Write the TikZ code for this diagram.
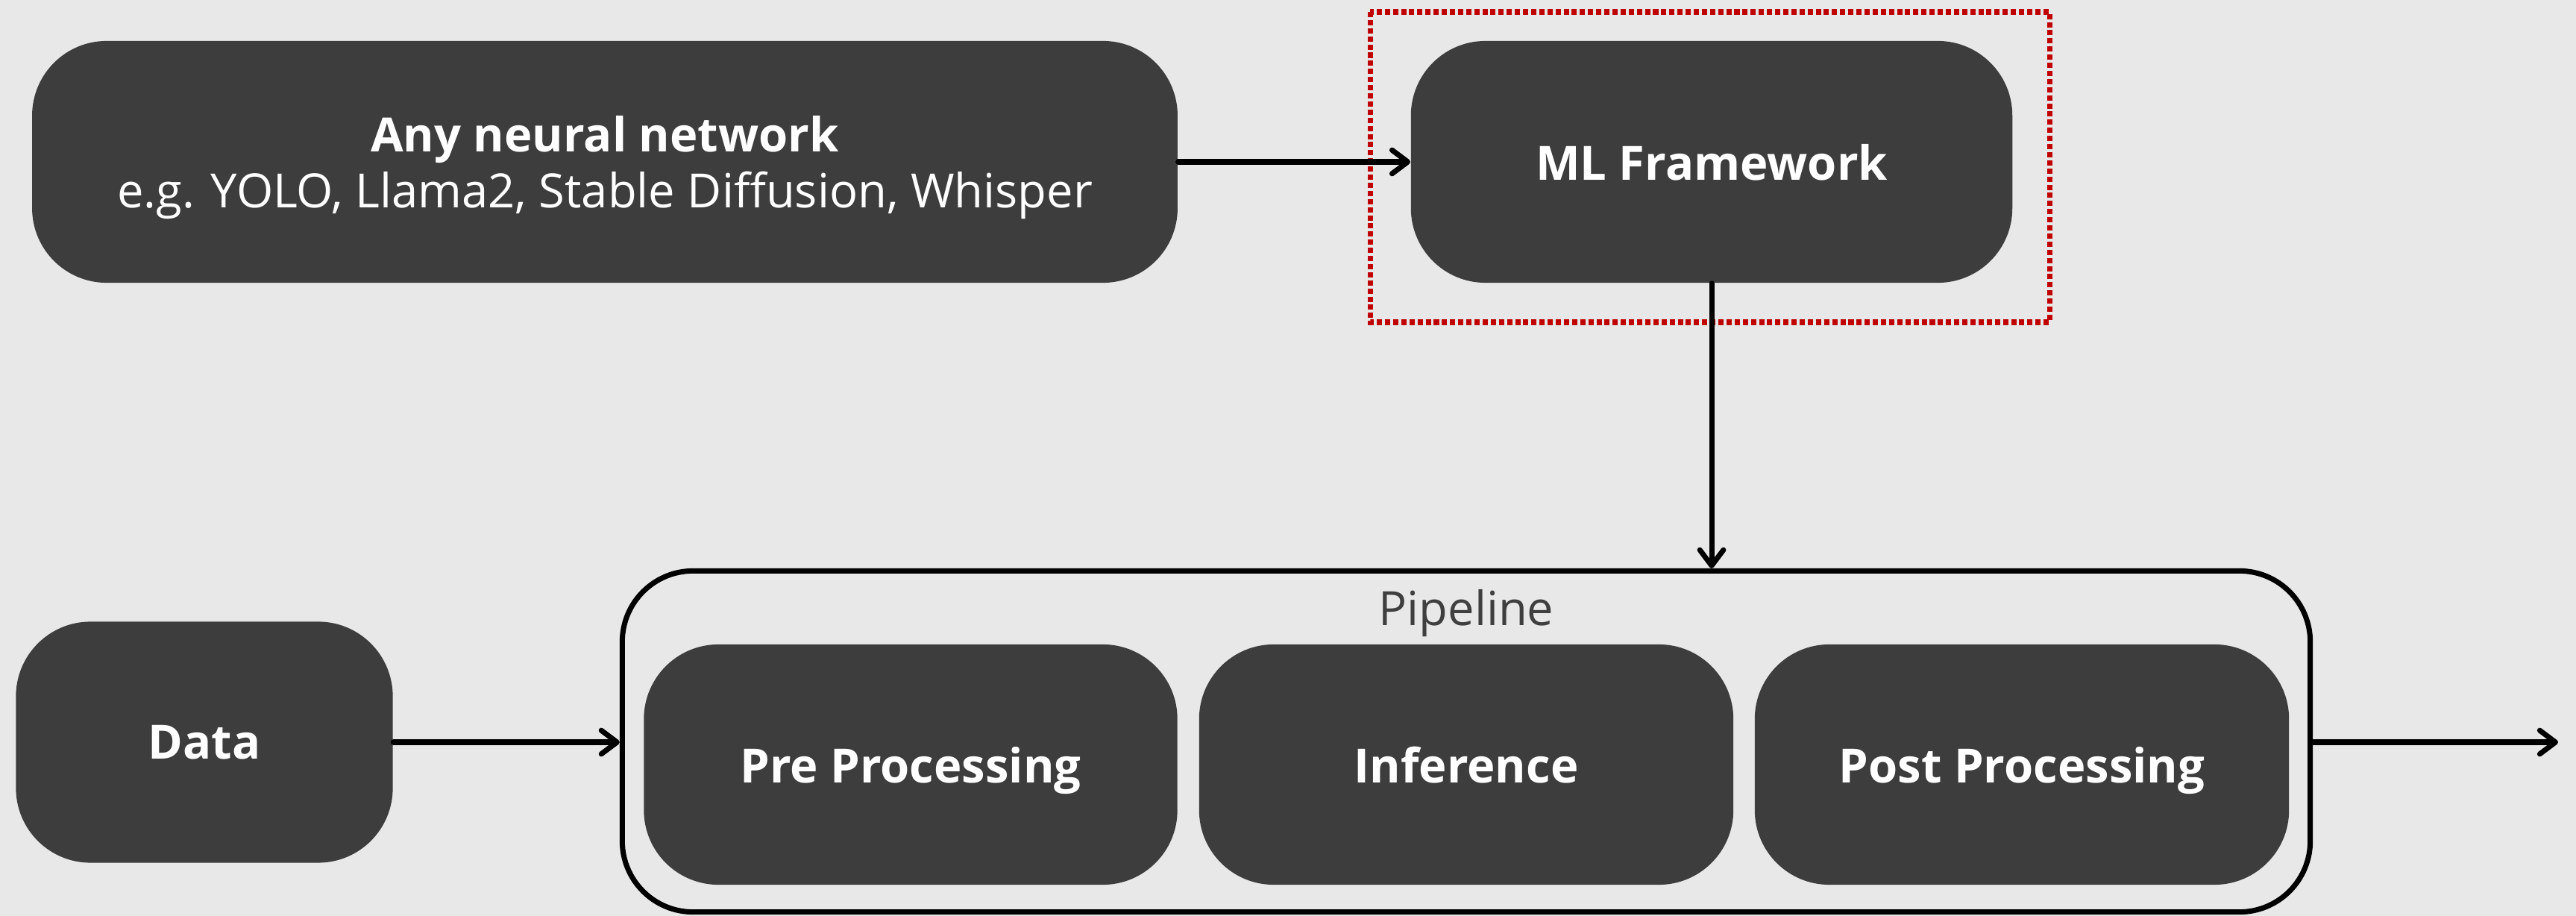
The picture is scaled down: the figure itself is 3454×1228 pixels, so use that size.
\documentclass[tikz,border=0pt]{standalone}
\usepackage{fontspec}
\setmainfont{Open Sans}
\usetikzlibrary{arrows.meta}
\definecolor{bg}{HTML}{E8E8E8}
\definecolor{boxfill}{HTML}{3D3D3D}
\definecolor{framered}{HTML}{C00000}
\definecolor{labelgray}{HTML}{3F3F3F}
\tikzset{
  blockbox/.style={fill=boxfill, draw=none, rounded corners=1cm, text=white,
    align=center, inner sep=0pt, text depth=0pt, font=\fontsize{18}{21.5}\selectfont},
  flow/.style={line width=2pt, line cap=round, -{Straight Barb[length=6pt,width=9pt,line width=2pt,round]}},
  groupbox/.style={draw=black, line width=2pt, rounded corners=0.95cm, inner sep=0pt},
}
\begin{document}
\begin{tikzpicture}[x=0.01cm, y=-0.01cm]
  % canvas
  \fill[bg] (0,0) rectangle (3454,1228);
  \useasboundingbox (0,0) rectangle (3454,1228);

  % highlighted framework area
  \draw[framered, line width=2pt, dash pattern=on 2pt off 1.1pt] (1837,16) rectangle (2748,432);

  % top row
  \node[blockbox, minimum width=15.35cm, minimum height=3.24cm] (nn) at (811,217)
    {\textbf{Any neural network}\\e.g. YOLO, Llama2, Stable Diffusion, Whisper};
  \node[blockbox, minimum width=8.06cm, minimum height=3.24cm] (ml) at (2295,217)
    {\textbf{ML Framework}};

  % pipeline container
  \node[groupbox, minimum width=22.62cm, minimum height=4.57cm] (pipe) at (1966,994) {};
  \node[text=labelgray, font=\fontsize{18}{21.5}\selectfont, anchor=base] (pipelabel) at (1966,838) {Pipeline};

  % pipeline stages
  \node[blockbox, minimum width=7.15cm, minimum height=3.22cm] (pre) at (1221,1025) {\textbf{Pre Processing}};
  \node[blockbox, minimum width=7.16cm, minimum height=3.22cm] (inf) at (1966,1025) {\textbf{Inference}};
  \node[blockbox, minimum width=7.16cm, minimum height=3.22cm] (post) at (2711,1025) {\textbf{Post Processing}};

  % input data
  \node[blockbox, minimum width=5.05cm, minimum height=3.23cm] (data) at (274,995) {\textbf{Data}};

  % connectors
  \coordinate (out) at (3430,995);
  \draw[flow] (nn.east) -- (ml.west);
  \draw[flow] (ml.south) -- (ml.south |- pipe.north);
  \draw[flow] (data.east) -- (data.east -| pipe.west);
  \draw[flow] (pipe.east |- out) -- (out);
\end{tikzpicture}
\end{document}
